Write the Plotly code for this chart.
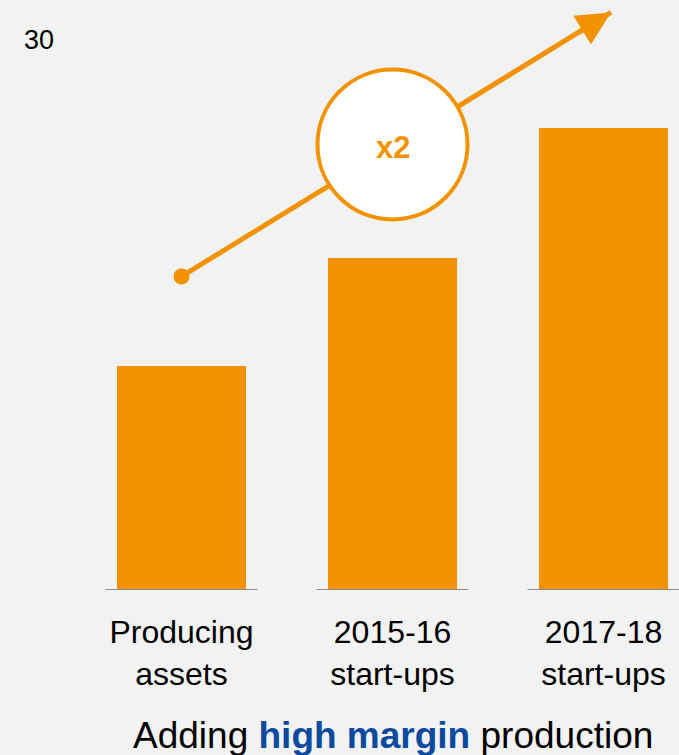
import plotly.graph_objects as go

# Production contribution by asset group
categories = ["Producing<br>assets", "2015-16<br>start-ups", "2017-18<br>start-ups"]
values = [12.2, 18.1, 25.2]
y_ticks = [30]
growth_label = "x2"

# Trend arrow and badge positions (data units)
arrow_start = (0.0, 17.1)
arrow_end = (2.035, 31.5)
badge_center = (1.0, 24.3)

ORANGE = "#F39200"
BLUE = "#0B4A9E"
BG = "#F2F2F2"
GREY = "#8C8C8C"
FONT = "Arial, Liberation Sans, sans-serif"

x_idx = list(range(len(categories)))

fig = go.Figure()

fig.add_trace(go.Bar(
    x=x_idx, y=values, width=0.611,
    marker=dict(color=ORANGE, line=dict(width=0)),
    hoverinfo="skip", showlegend=False,
))

# Trend line with the starting dot
fig.add_trace(go.Scatter(
    x=[arrow_start[0], arrow_end[0]], y=[arrow_start[1], arrow_end[1]],
    mode="lines", line=dict(color=ORANGE, width=5),
    hoverinfo="skip", showlegend=False,
))
fig.add_trace(go.Scatter(
    x=[arrow_start[0]], y=[arrow_start[1]], mode="markers",
    marker=dict(color=ORANGE, size=16, line=dict(width=0)),
    hoverinfo="skip", showlegend=False,
))

# Growth badge
fig.add_trace(go.Scatter(
    x=[badge_center[0]], y=[badge_center[1]], mode="markers",
    marker=dict(color="white", size=150, line=dict(color=ORANGE, width=4)),
    hoverinfo="skip", showlegend=False,
))
fig.add_annotation(
    x=badge_center[0], y=badge_center[1], xref="x", yref="y",
    text=f"<b>{growth_label}</b>", showarrow=False, yshift=-3,
    font=dict(family=FONT, size=31, color=ORANGE),
)

# Arrowhead at the end of the trend line
fig.add_annotation(
    x=arrow_end[0], y=arrow_end[1], xref="x", yref="y",
    ax=-34, ay=21, text="", showarrow=True,
    arrowhead=2, arrowwidth=5, arrowsize=1.35, arrowcolor=ORANGE, standoff=0,
)

# Baseline segments under each bar
for i in x_idx:
    fig.add_shape(
        type="line", xref="x", yref="y",
        x0=i - 0.36, x1=i + 0.36, y0=0, y1=0,
        line=dict(color=GREY, width=2), layer="above",
    )

fig.add_annotation(
    x=1, y=0, xref="x", yref="paper", yanchor="top", xanchor="center",
    yshift=-123, showarrow=False,
    text=f"Adding <b><span style='color:{BLUE}'>high margin</span></b> production",
    font=dict(family=FONT, size=37, color="#000000"),
)

fig.update_layout(
    width=679, height=755,
    margin=dict(l=70, r=0, t=0, b=165),
    paper_bgcolor=BG, plot_bgcolor=BG,
    font=dict(family=FONT, color="#000000"),
    bargap=0,
)
fig.update_xaxes(
    range=[-0.5284, 2.3578], tickvals=x_idx, ticktext=categories,
    showgrid=False, zeroline=False, showline=False, ticks="",
    tickfont=dict(family=FONT, size=32, color="#000000"),
    ticklabelstandoff=20,
)
fig.update_yaxes(
    range=[0, 32.18], tickvals=y_ticks, ticktext=[str(v) for v in y_ticks],
    showgrid=False, zeroline=False, showline=False, ticks="",
    tickfont=dict(family=FONT, size=27, color="#000000"),
    ticklabelstandoff=15,
)

fig.write_html("out.html")
